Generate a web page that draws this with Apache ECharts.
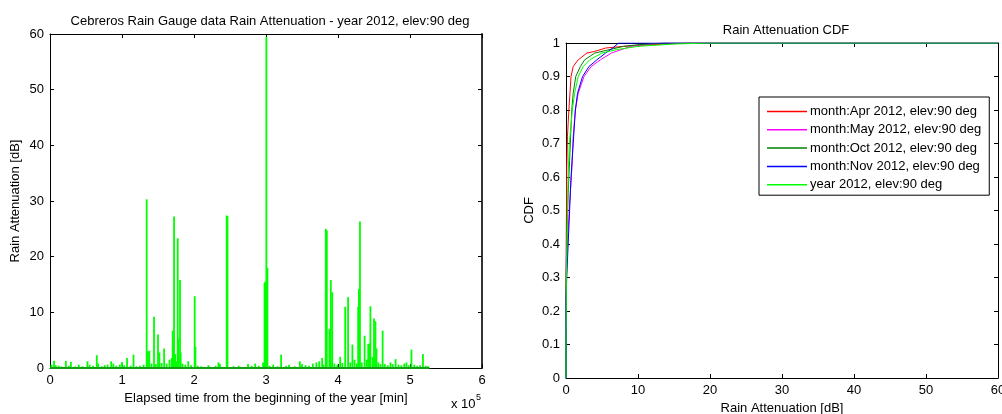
<!DOCTYPE html>
<html>
<head>
<meta charset="utf-8">
<script src="https://cdn.jsdelivr.net/npm/echarts@6/dist/echarts.min.js"></script>
<style>
html,body{margin:0;padding:0;background:#fff;}
#c{width:1002px;height:414px;}
</style>
</head>
<body>
<div id="c"></div>
<script>
// ---------- Left chart: rain attenuation time series ----------
// elapsed time [min]
const rainTime = [
  2000,5600,8000,12000,16000,22000,26000,29000,35000,40000,45000,52000,55000,60000,65000,67000,72000,76000,80000,85000,88000,92000,97000,100000,103000,107000,112000,116000,120000,125000,130000,
  134300,136000,138000,141000,144500,147000,150000,152000,155000,158500,162000,166000,169000,170400,171000,172300,174000,176000,177400,178500,180600,181500,184000,188000,192000,196000,
  201000,202000,205000,210000,220000,230000,234000,236000,245400,246500,255000,262000,275000,280000,285000,290000,296000,
  298000,299000,300500,302000,305000,310000,316000,321000,328000,332000,340000,347000,350000,355000,360000,365000,370000,374000,378000,380000,
  383000,384500,388000,390000,392000,395000,399000,403000,406000,410000,414000,417000,420000,423000,426000,428000,429000,430500,433000,437000,440000,442000,443500,445000,448000,
  450000,452000,453500,456000,459000,462000,465000,469000,473000,476000,480000,484000,488000,492000,495000,498000,502000,506000,510000,514000,518000,522000,525000
];
// attenuation [dB]
const rainAtten = [
  0.6,1.3,0.5,0.4,0.3,1.3,0.4,1.1,0.3,0.6,0.3,1.2,0.6,0.4,2.3,0.8,0.3,0.5,0.6,1.2,0.8,0.4,0.6,1.1,0.5,1.8,0.4,2.4,0.3,0.4,0.6,
  30.3,3.0,3.1,0.8,9.2,0.7,6.0,2.8,0.9,3.5,0.8,1.5,1.8,6.7,3.9,27.2,2.5,1.2,23.3,5.3,15.8,2.8,0.8,0.6,1.2,0.5,
  12.9,3.8,0.4,0.3,0.5,0.4,1.0,0.7,27.4,27.3,0.3,0.4,0.7,0.4,0.8,0.4,1.0,
  15.3,15.5,59.5,18.0,0.4,0.6,0.3,2.4,0.4,0.6,0.3,1.2,0.7,0.5,0.4,0.8,1.0,1.2,1.8,0.6,
  25.0,24.7,7.0,15.8,13.6,0.8,0.6,2.0,0.9,11.0,12.7,1.0,4.2,1.5,0.8,11.0,14.2,26.3,1.0,5.8,1.5,4.3,4.4,11.1,2.0,
  8.9,8.4,3.5,1.0,0.7,6.7,0.7,0.5,1.0,0.7,1.6,0.6,0.5,0.8,1.0,0.5,3.3,0.6,0.4,0.5,2.5,0.4,0.3
];
const recordStart = 0;
const recordEnd = 527000;
const leftXTicks = [0,1,2,3,4,5,6];   // x 10^5 min

// ---------- Right chart: CDF curves ----------
const aprX = [0,0,0.1,0.2,0.4,0.7,1.0,1.7,2.9,4,5.5,8,12,17,60];
const aprY = [0,0.3,0.62,0.72,0.8,0.9,0.93,0.95,0.97,0.975,0.985,0.99,0.995,1,1];
const mayX = [0,0,0.2,0.5,0.8,1.0,1.3,1.7,2.5,3.5,4.8,6.3,9,13,60];
const mayY = [0,0.25,0.4,0.52,0.62,0.72,0.8,0.85,0.9,0.93,0.95,0.97,0.99,1,1];
const octX = [0,0,0.15,0.3,0.5,0.8,1.0,1.35,2.0,2.6,4,6,8,10,14,60];
const octY = [0,0.3,0.45,0.55,0.65,0.8,0.85,0.9,0.93,0.95,0.97,0.98,0.99,0.995,1,1];
const novX = [0,0,0.1,0.3,0.5,0.7,1.0,1.3,1.6,2.3,3.2,4.3,5.5,6.5,7.3,60];
const novY = [0,0.23,0.3,0.4,0.5,0.6,0.7,0.8,0.85,0.9,0.93,0.95,0.97,0.985,1,1];
const yearX = [0,0,0.05,0.2,0.3,0.46,0.88,1.2,1.7,2.4,3.3,5,7,10,15,20,60];
const yearY = [0,0.1,0.3,0.5,0.6,0.7,0.8,0.85,0.9,0.93,0.95,0.97,0.98,0.99,0.997,1,1];
const cdfNames = ['month:Apr 2012, elev:90 deg','month:May 2012, elev:90 deg','month:Oct 2012, elev:90 deg','month:Nov 2012, elev:90 deg','year 2012, elev:90 deg'];
const cdfColors = ['#ff0000','#ff00ff','#008000','#0000ff','#00ff00'];

const zip = (xs, ys) => xs.map((x, i) => [x, ys[i]]);
const FONT = 'Liberation Sans, Arial, sans-serif';
const FS = 13;

const boxAxis = (gridIndex, pos, extra) => Object.assign({
  gridIndex, position: pos, type: 'value',
  axisLine: {show: true, onZero: false, lineStyle: {color: '#000', width: 1}},
  axisTick: {show: true, inside: true, length: 4, lineStyle: {color: '#000'}},
  axisLabel: {show: false},
  splitLine: {show: false}
}, extra);

const labelStyle = {color: '#000', fontFamily: FONT, fontSize: FS};
const nameStyle = {color: '#000', fontFamily: FONT, fontSize: FS};

const chart = echarts.init(document.getElementById('c'), null, {renderer: 'canvas'});
const cdfSeries = [[aprX,aprY],[mayX,mayY],[octX,octY],[novX,novY],[yearX,yearY]].map((d, i) => ({
  name: cdfNames[i], type: 'line', xAxisIndex: 2, yAxisIndex: 2,
  data: zip(d[0], d[1]), showSymbol: false, symbol: 'none',
  lineStyle: {color: cdfColors[i], width: 1}, itemStyle: {color: cdfColors[i]},
  animation: false, z: 2
}));

chart.setOption({
  animation: false,
  backgroundColor: '#fff',
  textStyle: {fontFamily: FONT},
  title: [
    {text: 'Cebreros Rain Gauge data Rain Attenuation - year 2012, elev:90 deg', left: 265, top: 10, textAlign: 'center',
     textStyle: {fontFamily: FONT, fontSize: FS, fontWeight: 'normal', color: '#000'}},
    {text: 'Rain Attenuation CDF', left: 781, top: 19, textAlign: 'center',
     textStyle: {fontFamily: FONT, fontSize: FS, fontWeight: 'normal', color: '#000'}}
  ],
  grid: [
    {left: 50, top: 34, width: 432, height: 334, outerBoundsMode: 'none', containLabel: false},
    {left: 566, top: 43, width: 432, height: 335, outerBoundsMode: 'none', containLabel: false}
  ],
  legend: {
    data: cdfNames, orient: 'vertical', left: 759, top: 97,
    backgroundColor: '#fff', borderColor: '#000', borderWidth: 1, borderRadius: 0,
    padding: [8, 8, 4, 8], itemGap: 5.3, itemWidth: 40, itemHeight: 1.5, icon: 'rect',
    textStyle: {fontFamily: FONT, fontSize: FS, color: '#000', padding: [0,0,0,-2]}
  },
  xAxis: [
    boxAxis(0, 'bottom', {min: 0, max: 600000, interval: 100000,
      axisLabel: Object.assign({show: true, margin: 6, formatter: v => String(leftXTicks[Math.round(v / 100000)])}, labelStyle),
      name: 'Elapsed time from the beginning of the year [min]', nameLocation: 'middle', nameGap: 22, nameTextStyle: nameStyle}),
    boxAxis(0, 'top', {min: 0, max: 600000, interval: 100000}),
    boxAxis(1, 'bottom', {min: 0, max: 60, interval: 10,
      axisLabel: Object.assign({show: true, margin: 6}, labelStyle),
      name: 'Rain Attenuation [dB]', nameLocation: 'middle', nameGap: 22, nameTextStyle: nameStyle}),
    boxAxis(1, 'top', {min: 0, max: 60, interval: 10})
  ],
  yAxis: [
    boxAxis(0, 'left', {min: 0, max: 60, interval: 10,
      axisLabel: Object.assign({show: true, margin: 6}, labelStyle),
      name: 'Rain Attenuation [dB]', nameLocation: 'middle', nameGap: 28, nameTextStyle: nameStyle}),
    boxAxis(0, 'right', {min: 0, max: 60, interval: 10, axisLine: {show: true, onZero: false, lineStyle: {color: '#333', width: 2}}}),
    boxAxis(1, 'left', {min: 0, max: 1, interval: 0.1,
      axisLabel: Object.assign({show: true, margin: 6, formatter: v => (v === 0 || v === 1) ? String(v) : v.toFixed(1)}, labelStyle),
      name: 'CDF', nameLocation: 'middle', nameGap: 30, nameTextStyle: nameStyle}),
    boxAxis(1, 'right', {min: 0, max: 1, interval: 0.1})
  ],
  series: [
    {type: 'line', xAxisIndex: 0, yAxisIndex: 0, data: [[recordStart, 0], [recordEnd, 0]],
     showSymbol: false, symbol: 'none', lineStyle: {color: '#12a012', width: 2}, z: 3},
    {type: 'bar', xAxisIndex: 0, yAxisIndex: 0, data: zip(rainTime, rainAtten),
     barWidth: 1.8, itemStyle: {color: '#00ff00'}, z: 2}
  ].concat(cdfSeries),
  graphic: [
    {type: 'text', left: 451, top: 398, style: {text: 'x 10', fontFamily: FONT, fontSize: FS, fill: '#000'}},
    {type: 'text', left: 476, top: 393, style: {text: '5', fontFamily: FONT, fontSize: 9, fill: '#000'}}
  ]
});
</script>
</body>
</html>
